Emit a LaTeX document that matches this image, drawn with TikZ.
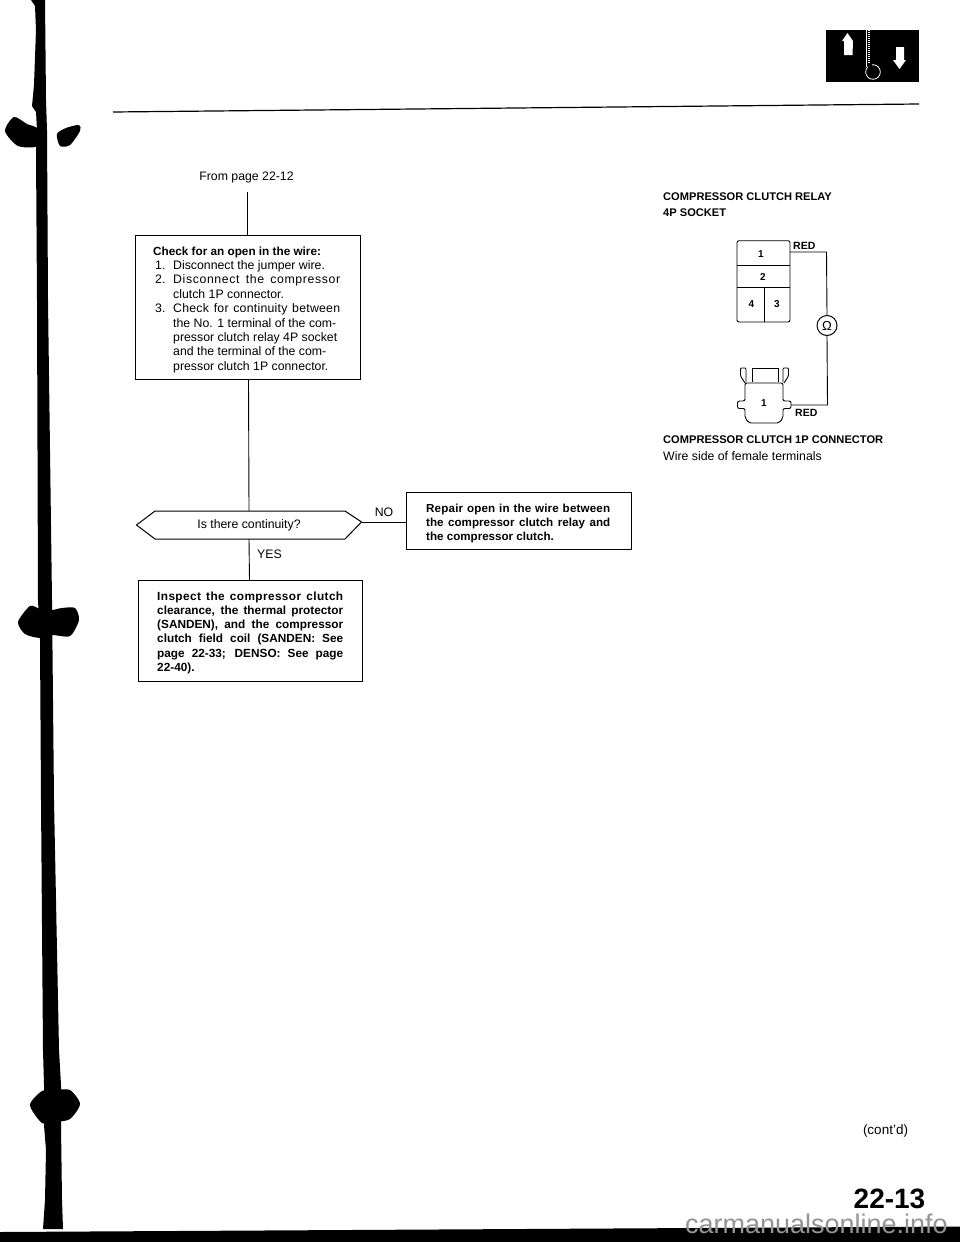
\documentclass[tikz,border=0pt]{standalone}
\usepackage{fontspec}
\setmainfont{Liberation Sans}
\newcommand{\jl}[2]{\makebox[#1][s]{#2}}
\tikzset{
  box/.style={draw=black,line width=1pt,fill=white},
  link/.style={draw=black,line width=0.9pt},
  plain/.style={font=\fontsize{12.3}{14.4}\selectfont,anchor=north west,inner sep=0pt,align=left},
  boldtxt/.style={font=\fontsize{11.6}{14.2}\selectfont\bfseries,anchor=north west,inner sep=0pt,align=left},
  head/.style={font=\fontsize{11.1}{13}\selectfont\bfseries,anchor=west,inner sep=0pt},
  redtag/.style={font=\fontsize{10.5}{12}\selectfont\bfseries,anchor=west,inner sep=0pt},
  pin/.style={font=\fontsize{10}{10}\selectfont\bfseries,inner sep=0pt},
  wire/.style={draw=black,line width=0.9pt},
}
\begin{document}
\begin{tikzpicture}[x=1pt,y=-1pt]
\useasboundingbox (0,0) rectangle (960,1242);
\fill[white] (0,0) rectangle (960,1242);
% left spine
\fill[black] (31,0) -- (35,6) -- (36,30) -- (34,85) -- (32,106) -- (36,112) -- (37,130) -- (36,152) -- (37,300) -- (38,600) -- (40,640) -- (41,800) -- (43,1050) -- (44,1085) -- (44,1125) -- (46,1150) -- (45,1200) -- (43,1229) -- (63,1229) -- (62,1200) -- (61,1125) -- (61,1085) -- (59,1050) -- (54,800) -- (52,600) -- (48,300) -- (47,130) -- (46,100) -- (45,0) -- cycle;
\fill[black] plot[smooth cycle,tension=0.45] coordinates {(5,131) (14,117) (27,124) (38,129) (38,146) (18,146)};
\fill[black] plot[smooth cycle,tension=0.45] coordinates {(57,134) (66,128) (79,125) (80,131) (70,145) (60,146)};
\fill[black] plot[smooth cycle,tension=0.45] coordinates {(18,622) (30,606) (40,609) (52,610) (62,608) (75,608) (79,620) (70,636) (52,635) (40,638) (25,634)};
\fill[black] plot[smooth cycle,tension=0.45] coordinates {(30,1105) (42,1091) (55,1090) (70,1090) (80,1104) (70,1119) (55,1122) (42,1123)};
% bottom bar
\fill[black] (0,1232) -- (960,1226.5) -- (960,1242) -- (0,1242) -- cycle;
\node[font=\fontsize{27}{27}\selectfont,text=black!42,anchor=base east,inner sep=0pt] (wm) at (948,1233) {carmanualsonline.info};
% header
\draw[black,line width=1.2pt] (113,112) -- (919,104);
\fill[black] (826,30) rectangle (919,82);
\draw[white,line width=0.8pt] (866.5,30) -- (866.5,67);
\draw[white,line width=1.4pt,dash pattern=on 1pt off 1pt] (869,30) -- (869,66);
\draw[white,line width=0.8pt] (873,72) circle (7.3);
\fill[black] (868,64) rectangle (872,68);
\fill[white] (847.5,33) -- (853,41) -- (852.5,55) -- (844,55) -- (844,41) -- (842,41) -- cycle;
\fill[white] (896,47) -- (904,47) -- (904,60) -- (906,60) -- (899.5,69) -- (893,60) -- (896,60) -- cycle;
% flowchart
\node[plain,anchor=center] (from) at (246.5,177) {From page 22-12};
\coordinate (fromend) at (247,191.5);
\node[box,minimum width=225pt,minimum height=144pt,inner sep=0pt] (check) at (247.5,307) {};
\node[plain] (checkt) at (153,246.3) {{\fontsize{11.75}{14.4}\selectfont\bfseries Check for an open in the wire:}\\
\hspace*{2pt}\makebox[18pt][l]{1.}Disconnect the jumper wire.\\
\hspace*{2pt}\makebox[18pt][l]{2.}\jl{167pt}{{\addfontfeature{LetterSpace=5}Disconnect the compressor}}\\
\hspace*{20pt}clutch 1P connector.\\
\hspace*{2pt}\makebox[18pt][l]{3.}\jl{167pt}{{\addfontfeature{LetterSpace=2}Check for continuity between}}\\
\hspace*{20pt}the No. 1 terminal of the com-\\
\hspace*{20pt}pressor clutch relay 4P socket\\
\hspace*{20pt}and the terminal of the com-\\
\hspace*{20pt}pressor clutch 1P connector.};
% decision
\coordinate (dtop) at (249,511);
\coordinate (dbot) at (249,539);
\coordinate (dright) at (361.5,522);
\draw[box] (136.5,525) -- (155,511) -- (345,511) -- (dright) -- (345,539) -- (155,539) -- cycle;
\node[plain,anchor=center] (q) at (249,525) {Is there continuity?};
\node[box,minimum width=225pt,minimum height=57pt,inner sep=0pt] (repair) at (518.5,520.5) {};
\node[boldtxt] (repairt) at (426,503.5) {\addfontfeature{LetterSpace=1.5}\jl{184pt}{Repair open in the wire between}\\\jl{184pt}{the compressor clutch relay and}\\the compressor clutch.};
\node[box,minimum width=224pt,minimum height=101pt,inner sep=0pt] (inspect) at (250,631) {};
\node[boldtxt,font=\fontsize{11.8}{14.2}\selectfont\bfseries] (inspectt) at (157,591.5) {\addfontfeature{LetterSpace=3.5}\jl{186pt}{Inspect the compressor clutch}\\\jl{186pt}{clearance, the thermal protector}\\\jl{186pt}{(SANDEN), and the compressor}\\\jl{186pt}{clutch field coil (SANDEN: See}\\\jl{186pt}{page 22-33; DENSO: See page}\\22-40).};
\node[plain,anchor=center] (no) at (384,512) {NO};
\node[plain,anchor=center] (yes) at (269.5,554) {YES};
\draw[link] (fromend) -- (247,235);
\draw[link] (248.5,379) -- (dtop);
\draw[link] (dbot) -- (249.5,580.5);
\draw[link] (dright) -- (406,522);
% right side
\node[head] (relayA) at (663,197) {COMPRESSOR CLUTCH RELAY};
\node[head] (relayB) at (663,212.5) {4P SOCKET};
\node[head] (connA) at (663,440) {COMPRESSOR CLUTCH 1P CONNECTOR};
\node[plain,anchor=west] (connB) at (663,455.7) {Wire side of female terminals};
% relay socket
\draw[wire,rounded corners=2pt] (737,240.7) rectangle (790,322);
\draw[wire] (737,265.7) -- (790,265.7);
\draw[wire] (737,287.5) -- (790,287.5);
\draw[wire] (764,287.5) -- (764,322);
\node[pin] (p1) at (761,254) {1};
\node[pin] (p2) at (763,277) {2};
\node[pin] (p4) at (751.5,304) {4};
\node[pin] (p3) at (777,304) {3};
\node[redtag] (red1) at (793,245.5) {RED};
\node[draw=black,line width=1pt,circle,minimum size=20pt,inner sep=0pt,font=\fontsize{13}{13}\selectfont] (ohm) at (827,325.5) {Ω};
\draw[wire] (790,252) -- (826.5,252) -- (ohm.north);
% connector
\draw[wire,rounded corners=2pt] (745,383) -- (745,401) -- (737.5,401) -- (737.5,408.5) -- (745,408.5) -- (745,418) -- (749,423) -- (779,423) -- (783,418) -- (783,408.5) -- (791,408.5) -- (791,401) -- (783,401) -- (783,383) -- cycle;
\draw[wire] (752,382) -- (752,368) -- (778,368) -- (778,382);
\draw[wire,rounded corners=1pt] (745,383) -- (740.5,376) -- (740.5,368) -- (746,368) -- (746,382);
\draw[wire,rounded corners=1pt] (784,383) -- (788.5,376) -- (788.5,368) -- (783,368) -- (783,382);
\node[pin] (pc1) at (764,403) {1};
\node[redtag] (red2) at (795,412.7) {RED};
\draw[wire] (ohm.south) -- (827.5,405) -- (791,405);
% footer
\node[font=\fontsize{13.5}{13.5}\selectfont,inner sep=0pt] (cont) at (885.5,1130.7) {(cont'd)};
\node[font=\fontsize{28}{28}\selectfont\bfseries,inner sep=0pt] (pg) at (889.5,1199) {22-13};
\end{tikzpicture}
\end{document}
